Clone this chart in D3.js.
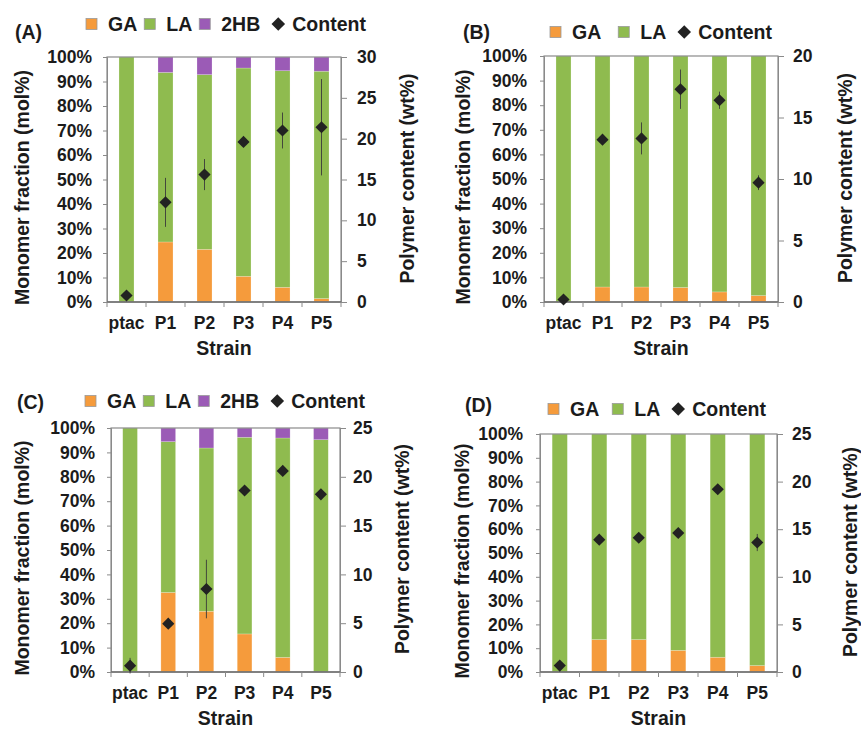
<!DOCTYPE html>
<html>
<head>
<meta charset="utf-8">
<script src="https://cdn.jsdelivr.net/npm/d3@7"></script>
<style>
  html, body { margin: 0; padding: 0; background: #fff; }
  svg { display: block; font-family: "Liberation Sans", Arial, sans-serif; font-weight: bold; }
</style>
</head>
<body>
<svg id="chart" width="861" height="729"></svg>
<script>
// Strains shared by all four panels
const strains = ["ptac", "P1", "P2", "P3", "P4", "P5"];
const percentTicks = [0, 10, 20, 30, 40, 50, 60, 70, 80, 90, 100];

// Monomer composition (mol%) and polymer content (wt%) per panel
const gaA      = [0, 24.5, 21.5, 10.5, 6.0, 1.4];
const hbA      = [0, 6.3, 7.2, 4.5, 5.6, 5.8];
const contentA = [0.8, 12.2, 15.6, 19.6, 21.0, 21.4];
const errA     = [0, 3.0, 1.9, 0, 2.2, 5.9];

const gaB      = [0, 6.1, 6.1, 5.9, 4.1, 2.6];
const hbB      = [0, 0, 0, 0, 0, 0];
const contentB = [0.2, 13.2, 13.3, 17.3, 16.4, 9.7];
const errB     = [0, 0, 1.3, 1.6, 0.7, 0.6];

const gaC      = [0, 32.6, 24.9, 15.6, 6.0, 0];
const hbC      = [0, 5.6, 8.2, 3.8, 4.1, 4.8];
const contentC = [0.65, 4.95, 8.5, 18.6, 20.6, 18.2];
const errC     = [0.8, 0, 3.0, 0, 0, 0];

const gaD      = [0, 13.6, 13.6, 9.1, 6.2, 2.7];
const hbD      = [0, 0, 0, 0, 0, 0];
const contentD = [0.67, 13.9, 14.1, 14.6, 19.2, 13.6];
const errD     = [0, 0, 0, 0, 0, 0.9];

const rightMaxA = 30, rightTicksA = [0, 5, 10, 15, 20, 25, 30];
const rightMaxB = 20, rightTicksB = [0, 5, 10, 15, 20];
const rightMaxC = 25, rightTicksC = [0, 5, 10, 15, 20, 25];
const rightMaxD = 25, rightTicksD = [0, 5, 10, 15, 20, 25];

const colors = { GA: "#F59B3C", LA: "#8FBB4F", "2HB": "#9B5BB6" };
const ink = "#1b1b1b";
const frame = "#8a8a8a";

const panels = [
  { tag: "(A)", ga: gaA, hb: hbA, content: contentA, err: errA, rmax: rightMaxA, rticks: rightTicksA, with2HB: true,
    box: { l: 107, t: 57, r: 341, b: 302 }, tickGapL: 15, titleL: 85, tickGapR: 16, titleR: 66,
    legendX: 86, legendY: 24, legendGap: 7, tagX: 15, tagY: 32 },
  { tag: "(B)", ga: gaB, hb: hbB, content: contentB, err: errB, rmax: rightMaxB, rticks: rightTicksB, with2HB: false,
    box: { l: 544, t: 56, r: 778, b: 302 }, tickGapL: 17, titleL: 81, tickGapR: 15, titleR: 67,
    legendX: 550, legendY: 32, legendGap: 17, tagX: 463, tagY: 32 },
  { tag: "(C)", ga: gaC, hb: hbC, content: contentC, err: errC, rmax: rightMaxC, rticks: rightTicksC, with2HB: true,
    box: { l: 111, t: 428, r: 340, b: 672 }, tickGapL: 16, titleL: 89, tickGapR: 13, titleR: 62,
    legendX: 85, legendY: 401, legendGap: 7, tagX: 17, tagY: 402 },
  { tag: "(D)", ga: gaD, hb: hbD, content: contentD, err: errD, rmax: rightMaxD, rticks: rightTicksD, with2HB: false,
    box: { l: 540, t: 434, r: 777, b: 672 }, tickGapL: 17, titleL: 78, tickGapR: 15, titleR: 73,
    legendX: 548, legendY: 409, legendGap: 13, tagX: 465, tagY: 405 }
];

const svg = d3.select("#chart");
const diamond = d3.symbol().type(d3.symbolSquare).size(74);

panels.forEach(p => {
  const g = svg.append("g");
  const { l, t, r, b } = p.box;

  const x = d3.scaleBand().domain(strains).range([l, r]).paddingInner(0).paddingOuter(0);
  const y = d3.scaleLinear().domain([0, 100]).range([b, t]);
  const y2 = d3.scaleLinear().domain([0, p.rmax]).range([b, t]);
  const barW = x.bandwidth() * 0.385;

  // stacked segments: GA at the bottom, LA in the middle, 2HB on top
  const rows = strains.map((s, i) => ({
    strain: s, GA: p.ga[i], "2HB": p.hb[i], LA: 100 - p.ga[i] - p.hb[i]
  }));
  const keys = p.with2HB ? ["GA", "LA", "2HB"] : ["GA", "LA"];
  const stack = d3.stack().keys(keys)(rows);

  g.append("rect").attr("x", l).attr("y", t).attr("width", r - l).attr("height", b - t)
    .attr("fill", "#fff");

  stack.forEach(layer => {
    g.append("g").selectAll("rect").data(layer).join("rect")
      .attr("x", d => x(d.data.strain) + (x.bandwidth() - barW) / 2)
      .attr("y", d => y(d[1]))
      .attr("width", barW)
      .attr("height", d => Math.max(0, y(d[0]) - y(d[1])))
      .attr("fill", colors[layer.key])
      .attr("stroke", "rgba(255,255,255,0.35)")
      .attr("stroke-width", 0.6);
  });

  // frame
  g.append("rect").attr("x", l).attr("y", t).attr("width", r - l).attr("height", b - t)
    .attr("fill", "none").attr("stroke", frame).attr("stroke-width", 1.2);

  // left axis
  const yAxis = d3.axisLeft(y).tickValues(percentTicks).tickSize(4).tickPadding(p.tickGapL - 4)
    .tickFormat(d => d + "%");
  const ga = g.append("g").attr("transform", `translate(${l},0)`).call(yAxis);
  ga.select(".domain").attr("stroke", frame);
  ga.selectAll(".tick line").attr("stroke", frame);
  ga.selectAll(".tick text").attr("fill", ink).style("font-size", "17.5px")
    .style("font-family", "'Liberation Sans', Arial, sans-serif").style("font-weight", "bold");

  // right axis
  const y2Axis = d3.axisRight(y2).tickValues(p.rticks).tickSize(6).tickPadding(p.tickGapR - 6);
  const gr = g.append("g").attr("transform", `translate(${r},0)`).call(y2Axis);
  gr.select(".domain").attr("stroke", frame);
  gr.selectAll(".tick line").attr("stroke", frame);
  gr.selectAll(".tick text").attr("fill", ink).style("font-size", "17.5px")
    .style("font-family", "'Liberation Sans', Arial, sans-serif").style("font-weight", "bold");

  // bottom axis: ticks at the category boundaries
  const gb = g.append("g").attr("transform", `translate(0,${b})`);
  gb.append("line").attr("x1", l).attr("x2", r).attr("stroke", "#6f6f6f").attr("stroke-width", 1.3);
  const bounds = strains.map(s => x(s)).concat([r]);
  gb.selectAll("line.tk").data(bounds).join("line").attr("class", "tk")
    .attr("x1", d => d).attr("x2", d => d).attr("y1", 0).attr("y2", 5).attr("stroke", frame);
  gb.selectAll("text").data(strains).join("text")
    .attr("x", d => x(d) + x.bandwidth() / 2).attr("y", 21).attr("dy", "0.35em")
    .attr("text-anchor", "middle").attr("fill", ink).style("font-size", "17.5px").text(d => d);

  // axis titles
  g.append("text").attr("x", (l + r) / 2).attr("y", b + 46).attr("dy", "0.35em")
    .attr("text-anchor", "middle").attr("fill", ink).style("font-size", "19.5px").text("Strain");
  g.append("text")
    .attr("transform", `translate(${l - p.titleL},${(t + b) / 2 + 8}) rotate(-90)`)
    .attr("dy", "0.35em").attr("text-anchor", "middle").attr("fill", ink)
    .style("font-size", "19.5px").text("Monomer fraction (mol%)");
  g.append("text")
    .attr("transform", `translate(${r + p.titleR},${(t + b) / 2 - 1}) rotate(-90)`)
    .attr("dy", "0.35em").attr("text-anchor", "middle").attr("fill", ink)
    .style("font-size", "19.5px").text("Polymer content (wt%)");

  // polymer content with error bars
  const pts = strains.map((s, i) => ({ strain: s, v: p.content[i], e: p.err[i] }));
  g.append("g").selectAll("line").data(pts.filter(d => d.e > 0)).join("line")
    .attr("x1", d => x(d.strain) + x.bandwidth() / 2).attr("x2", d => x(d.strain) + x.bandwidth() / 2)
    .attr("y1", d => y2(d.v - d.e)).attr("y2", d => y2(d.v + d.e))
    .attr("stroke", "#3a3a3a").attr("stroke-width", 0.9);
  g.append("g").selectAll("path").data(pts).join("path")
    .attr("d", diamond)
    .attr("transform", d => `translate(${x(d.strain) + x.bandwidth() / 2},${y2(d.v)}) rotate(45)`)
    .attr("fill", "#222");

  // panel tag
  g.append("text").attr("x", p.tagX).attr("y", p.tagY).attr("dy", "0.35em")
    .attr("fill", ink).style("font-size", "19.5px").text(p.tag);

  // legend
  const lg = g.append("g");
  let cx = p.legendX;
  let textEnd = cx;
  keys.forEach(k => {
    lg.append("rect").attr("x", cx).attr("y", p.legendY - 5.5).attr("width", 11).attr("height", 11)
      .attr("fill", colors[k]).attr("stroke", "#9a9a9a").attr("stroke-width", 0.8);
    cx += 22;
    const tx = lg.append("text").attr("x", cx).attr("y", p.legendY).attr("dy", "0.35em")
      .attr("fill", ink).style("font-size", "19.5px").text(k);
    textEnd = cx + tx.node().getComputedTextLength();
    cx = textEnd + p.legendGap;
  });
  const dcx = textEnd + 18;
  lg.append("path").attr("d", d3.symbol().type(d3.symbolSquare).size(92))
    .attr("transform", `translate(${dcx},${p.legendY}) rotate(45)`).attr("fill", "#222");
  lg.append("text").attr("x", dcx + 14).attr("y", p.legendY).attr("dy", "0.35em")
    .attr("fill", ink).style("font-size", "19.5px").text("Content");
});
</script>
</body>
</html>
